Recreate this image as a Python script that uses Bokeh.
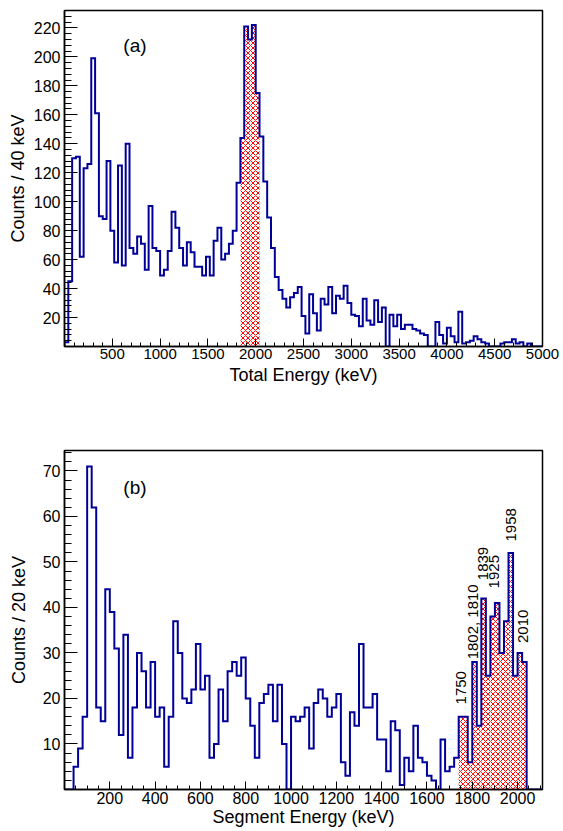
import math
from bokeh.plotting import figure
from bokeh.layouts import column
from bokeh.models import FixedTicker, Range1d, Label, ColumnDataSource
from bokeh.core.properties import value
from bokeh.embed import file_html
from bokeh.resources import INLINE

# ---------------- data ----------------
# (a) Total energy, 40 keV bins starting at 0 keV
total_bin_width = 40
total_counts = [3, 45, 130, 131, 62, 123, 126, 199, 161, 90,
                88, 128, 80, 58, 125, 56, 140, 68, 64, 76,
                71, 53, 97, 68, 66, 49, 53, 66, 93, 82,
                68, 56, 72, 65, 55, 55, 49, 62, 49, 73,
                82, 60, 64, 71, 80, 113, 144, 221, 212, 222,
                175, 145, 114, 89, 68, 48, 39, 33, 27, 34,
                37, 41, 21, 9, 36, 23, 11, 33, 29, 41,
                23, 35, 33, 42, 30, 22, 21, 14, 33, 18,
                15, 32, 17, 27, 0, 22, 14, 22, 12, 15,
                15, 12, 11, 9, 8, 0, 0, 17, 8, 2,
                13, 7, 3, 24, 2, 3, 4, 7, 5, 3,
                2, 0, 0, 0, 2, 3, 3, 5, 2, 3,
                0, 2, 0, 0, 0]
total_gate = (1840, 2040)          # hatched window (keV)

# (b) Segment energy, 20 keV bins starting at 0 keV
seg_bin_width = 20
seg_counts = [0, 0, 5, 9, 16, 71, 62, 18, 15, 44,
              39, 31, 12, 34, 7, 18, 30, 26, 18, 28,
              16, 18, 5, 16, 37, 30, 20, 19, 22, 32,
              22, 25, 7, 10, 22, 15, 26, 28, 25, 29,
              20, 14, 7, 19, 21, 23, 15, 23, 10, 0,
              16, 15, 16, 18, 9, 19, 22, 20, 16, 18,
              21, 6, 3, 17, 14, 32, 18, 18, 21, 11,
              11, 4, 15, 13, 1, 7, 4, 14, 7, 6,
              3, 2, 0, 11, 4, 5, 7, 16, 16, 6,
              28, 14, 42, 25, 38, 41, 30, 37, 52, 25,
              30, 28, 0, 0, 0, 0]
seg_gate = (1740, 2040)
seg_peak_labels = ["1750", "1802, 1810", "1839", "1925", "1958", "2010"]

total_xticks = [500, 1000, 1500, 2000, 2500, 3000, 3500, 4000, 4500, 5000]
total_yticks = [20, 40, 60, 80, 100, 120, 140, 160, 180, 200, 220]
seg_xticks = [200, 400, 600, 800, 1000, 1200, 1400, 1600, 1800, 2000]
seg_yticks = [10, 20, 30, 40, 50, 60, 70]

# ---------------- layout / style ----------------
# label anchors (data coords) for the rotated peak labels
seg_label_x = [1752, 1802, 1846, 1896, 1971, 2026]
seg_label_y = [18.7, 28.6, 46.0, 44.2, 54.5, 32.2]

FONT = "Liberation Sans"
NAVY = "#000099"


def make_fig(x_end, y_end, frame_h, top, bottom, xticks, xminor, yticks, yminor,
             xlabel, ylabel, ylabel_standoff, xlabel_standoff, xlab_size, ylab_size):
    p = figure(frame_width=478, frame_height=frame_h,
               x_range=Range1d(0, x_end), y_range=Range1d(0, y_end),
               output_backend="svg", toolbar_location=None,
               min_border_left=64, min_border_right=17,
               min_border_top=top, min_border_bottom=bottom)
    p.xgrid.visible = False
    p.ygrid.visible = False
    p.background_fill_color = "white"
    p.border_fill_color = "white"
    p.outline_line_color = "black"
    p.outline_line_width = 1.5
    p.outline_line_alpha = 1.0
    p.xaxis.ticker = FixedTicker(ticks=xticks, minor_ticks=xminor)
    p.yaxis.ticker = FixedTicker(ticks=yticks, minor_ticks=yminor)
    for ax in (p.xaxis[0], p.yaxis[0]):
        ax.axis_line_color = "black"
        ax.axis_line_width = 1.5
        ax.major_tick_out = 0
        ax.minor_tick_out = 0
        ax.major_tick_line_color = "black"
        ax.minor_tick_line_color = "black"
        ax.major_tick_line_width = 1
        ax.minor_tick_line_width = 1
        ax.major_label_text_font = FONT
        ax.major_label_text_color = "black"
        ax.axis_label_text_font = FONT
        ax.axis_label_text_font_size = "18px"
        ax.axis_label_text_font_style = "normal"
        ax.axis_label_text_color = "black"
    p.xaxis.major_label_text_font_size = xlab_size
    p.yaxis.major_label_text_font_size = ylab_size
    p.xaxis.major_tick_in = 8
    p.xaxis.minor_tick_in = 4
    p.yaxis.major_tick_in = 13
    p.yaxis.minor_tick_in = 7
    p.xaxis.major_label_standoff = 2
    p.yaxis.major_label_standoff = 4
    p.xaxis.axis_label = xlabel
    p.yaxis.axis_label = ylabel
    p.xaxis.axis_label_standoff = xlabel_standoff
    p.yaxis.axis_label_standoff = ylabel_standoff
    return p


def draw_hist(p, counts, width, gate, hatch_color):
    n = len(counts)
    edges = [width * i for i in range(n + 1)]
    lefts = [edges[i] for i in range(n) if edges[i] >= gate[0] and edges[i + 1] <= gate[1]]
    rights = [l + width for l in lefts]
    tops = [counts[int(l // width)] for l in lefts]
    p.quad(left=lefts, right=rights, bottom=0, top=tops,
           fill_color=None, line_color=None,
           hatch_pattern="diagonal_cross", hatch_color=hatch_color,
           hatch_scale=5, hatch_weight=1)
    xs = [edges[0]] + edges
    ys = [0] + list(counts) + [0]
    p.step(xs, ys, mode="after", line_color=NAVY, line_width=2, line_join="miter")


# ---- panel (a)
p1 = make_fig(5000, 232, 336, 10, 60,
              total_xticks, list(range(100, 5000, 100)),
              total_yticks, list(range(4, 232, 4)),
              "Total Energy (keV)", "Counts / 40 keV", 3, 3, "15px", "16px")
draw_hist(p1, total_counts, total_bin_width, total_gate, "#ff0000")
p1.add_layout(Label(x=737, y=207.7, text="(a)", text_font=FONT,
                    text_font_size="19px", text_align="center",
                    text_baseline="middle", text_color="black"))

# ---- panel (b)
p2 = make_fig(2110, 74.5, 339, 44, 42,
              seg_xticks, list(range(50, 2110, 50)),
              seg_yticks, list(range(2, 75, 2)),
              "Segment Energy (keV)", "Counts / 20 keV", 11, 0, "16px", "16px")
draw_hist(p2, seg_counts, seg_bin_width, seg_gate, "#fe0101")
p2.add_layout(Label(x=311, y=66.3, text="(b)", text_font=FONT,
                    text_font_size="19px", text_align="center",
                    text_baseline="middle", text_color="black"))
src = ColumnDataSource(dict(x=seg_label_x, y=seg_label_y, t=seg_peak_labels))
p2.text(x="x", y="y", text="t", source=src, angle=math.pi / 2,
        text_align="left", text_baseline="middle",
        text_font=value(FONT), text_font_size="15px", text_color="black")

layout = column(p1, p2)
open("out.html", "w").write(file_html(layout, INLINE))
